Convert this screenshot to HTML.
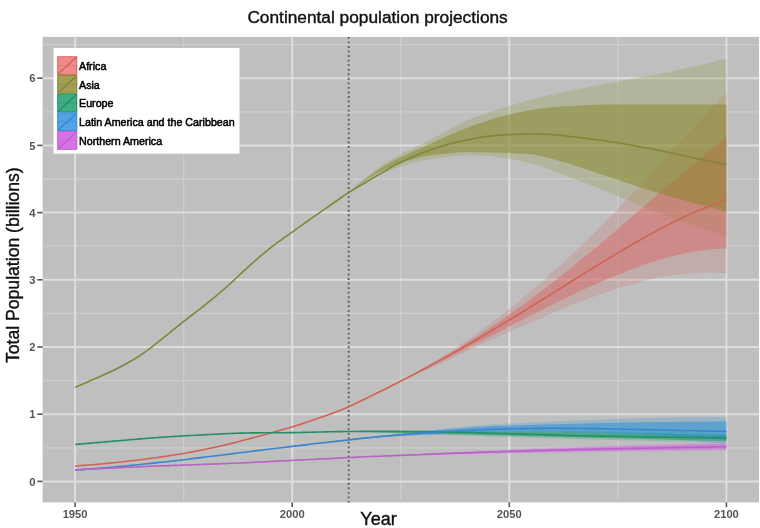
<!DOCTYPE html>
<html><head><meta charset="utf-8"><style>
html,body{margin:0;padding:0;background:#fff;}
svg{display:block;filter:blur(0.7px);}
text{font-family:"Liberation Sans", sans-serif;}
.tick{font-size:11.2px;font-weight:bold;fill:#555;}
.leg{font-size:10.7px;fill:#000;stroke:#000;stroke-width:0.5px;}
.title{font-size:17.3px;fill:#111;stroke:#111;stroke-width:0.4px;}
.axt{font-size:18px;fill:#111;stroke:#111;stroke-width:0.4px;}
.axty{font-size:17.6px;fill:#111;stroke:#111;stroke-width:0.4px;}
</style></head><body>
<svg width="760" height="528" viewBox="0 0 760 528">
<rect width="760" height="528" fill="#fff"/>
<rect x="42.6" y="36.9" width="716.4" height="465.5" fill="#BFBFBF"/>
<line x1="42.6" x2="759.0" y1="447.80" y2="447.80" stroke="#CDCDCD" stroke-width="1.3"/>
<line x1="42.6" x2="759.0" y1="380.60" y2="380.60" stroke="#CDCDCD" stroke-width="1.3"/>
<line x1="42.6" x2="759.0" y1="313.40" y2="313.40" stroke="#CDCDCD" stroke-width="1.3"/>
<line x1="42.6" x2="759.0" y1="246.20" y2="246.20" stroke="#CDCDCD" stroke-width="1.3"/>
<line x1="42.6" x2="759.0" y1="179.00" y2="179.00" stroke="#CDCDCD" stroke-width="1.3"/>
<line x1="42.6" x2="759.0" y1="111.80" y2="111.80" stroke="#CDCDCD" stroke-width="1.3"/>
<line x1="42.6" x2="759.0" y1="44.60" y2="44.60" stroke="#CDCDCD" stroke-width="1.3"/>
<line y1="36.9" y2="502.4" x1="183.65" x2="183.65" stroke="#CDCDCD" stroke-width="1.3"/>
<line y1="36.9" y2="502.4" x1="400.75" x2="400.75" stroke="#CDCDCD" stroke-width="1.3"/>
<line y1="36.9" y2="502.4" x1="617.85" x2="617.85" stroke="#CDCDCD" stroke-width="1.3"/>
<line x1="42.6" x2="759.0" y1="481.40" y2="481.40" stroke="#DEDEDE" stroke-width="2.0"/>
<line x1="42.6" x2="759.0" y1="414.20" y2="414.20" stroke="#DEDEDE" stroke-width="2.0"/>
<line x1="42.6" x2="759.0" y1="347.00" y2="347.00" stroke="#DEDEDE" stroke-width="2.0"/>
<line x1="42.6" x2="759.0" y1="279.80" y2="279.80" stroke="#DEDEDE" stroke-width="2.0"/>
<line x1="42.6" x2="759.0" y1="212.60" y2="212.60" stroke="#DEDEDE" stroke-width="2.0"/>
<line x1="42.6" x2="759.0" y1="145.40" y2="145.40" stroke="#DEDEDE" stroke-width="2.0"/>
<line x1="42.6" x2="759.0" y1="78.20" y2="78.20" stroke="#DEDEDE" stroke-width="2.0"/>
<line y1="36.9" y2="502.4" x1="75.10" x2="75.10" stroke="#DEDEDE" stroke-width="2.0"/>
<line y1="36.9" y2="502.4" x1="292.20" x2="292.20" stroke="#DEDEDE" stroke-width="2.0"/>
<line y1="36.9" y2="502.4" x1="509.30" x2="509.30" stroke="#DEDEDE" stroke-width="2.0"/>
<line y1="36.9" y2="502.4" x1="726.40" x2="726.40" stroke="#DEDEDE" stroke-width="2.0"/>
<defs><clipPath id="cA95"><polygon points="348.65,192.44 352.99,188.47 357.33,184.61 361.67,180.87 366.01,177.25 370.36,173.78 374.70,170.46 379.04,167.31 383.38,164.33 387.72,161.53 392.07,158.92 396.41,156.49 400.75,154.19 405.09,152.00 409.43,149.89 413.78,147.82 418.12,145.76 422.46,143.69 426.80,141.56 431.14,139.35 435.49,137.05 439.83,134.69 444.17,132.31 448.51,129.93 452.85,127.58 457.20,125.30 461.54,123.12 465.88,121.07 470.22,119.19 474.56,117.44 478.91,115.78 483.25,114.19 487.59,112.66 491.93,111.19 496.27,109.77 500.62,108.40 504.96,107.06 509.30,105.75 513.64,104.47 517.98,103.22 522.33,102.01 526.67,100.83 531.01,99.68 535.35,98.56 539.69,97.48 544.04,96.42 548.38,95.40 552.72,94.41 557.06,93.45 561.40,92.51 565.75,91.60 570.09,90.70 574.43,89.83 578.77,88.97 583.11,88.13 587.46,87.30 591.80,86.47 596.14,85.65 600.48,84.84 604.82,84.02 609.17,83.21 613.51,82.39 617.85,81.56 622.19,80.74 626.53,79.94 630.88,79.15 635.22,78.37 639.56,77.59 643.90,76.81 648.24,76.01 652.59,75.20 656.93,74.36 661.27,73.50 665.61,72.61 669.95,71.71 674.30,70.79 678.64,69.86 682.98,68.92 687.32,67.96 691.66,66.99 696.01,66.01 700.35,65.01 704.69,63.99 709.03,62.97 713.37,61.93 717.72,60.87 722.06,59.80 726.40,58.71 726.40,236.12 722.06,234.80 717.72,233.46 713.37,232.09 709.03,230.70 704.69,229.28 700.35,227.84 696.01,226.38 691.66,224.89 687.32,223.38 682.98,221.86 678.64,220.31 674.30,218.75 669.95,217.16 665.61,215.56 661.27,213.94 656.93,212.29 652.59,210.57 648.24,208.81 643.90,207.02 639.56,205.19 635.22,203.35 630.88,201.50 626.53,199.65 622.19,197.81 617.85,195.98 613.51,194.19 609.17,192.44 604.82,190.72 600.48,189.00 596.14,187.30 591.80,185.61 587.46,183.94 583.11,182.28 578.77,180.63 574.43,179.00 570.09,177.34 565.75,175.64 561.40,173.91 557.06,172.18 552.72,170.48 548.38,168.82 544.04,167.24 539.69,165.76 535.35,164.41 531.01,163.20 526.67,162.14 522.33,161.16 517.98,160.27 513.64,159.49 509.30,158.84 504.96,158.26 500.62,157.68 496.27,157.11 491.93,156.59 487.59,156.12 483.25,155.72 478.91,155.41 474.56,155.21 470.22,155.14 465.88,155.22 461.54,155.44 457.20,155.78 452.85,156.22 448.51,156.74 444.17,157.33 439.83,157.97 435.49,158.64 431.14,159.31 426.80,160.01 422.46,160.83 418.12,161.76 413.78,162.80 409.43,163.94 405.09,165.17 400.75,166.49 396.41,167.90 392.07,169.38 387.72,170.94 383.38,172.63 379.04,174.54 374.70,176.64 370.36,178.92 366.01,181.37 361.67,183.96 357.33,186.68 352.99,189.51 348.65,192.44"/></clipPath><clipPath id="cA80"><polygon points="348.65,192.44 352.99,188.84 357.33,185.33 361.67,181.93 366.01,178.65 370.36,175.48 374.70,172.44 379.04,169.55 383.38,166.80 387.72,164.22 392.07,161.78 396.41,159.49 400.75,157.30 405.09,155.21 409.43,153.19 413.78,151.22 418.12,149.29 422.46,147.36 426.80,145.43 431.14,143.46 435.49,141.47 439.83,139.48 444.17,137.49 448.51,135.53 452.85,133.60 457.20,131.73 461.54,129.92 465.88,128.20 470.22,126.58 474.56,125.03 478.91,123.50 483.25,122.00 487.59,120.56 491.93,119.18 496.27,117.87 500.62,116.64 504.96,115.51 509.30,114.49 513.64,113.53 517.98,112.58 522.33,111.66 526.67,110.78 531.01,109.97 535.35,109.22 539.69,108.57 544.04,108.01 548.38,107.57 552.72,107.24 557.06,106.93 561.40,106.62 565.75,106.33 570.09,106.06 574.43,105.80 578.77,105.55 583.11,105.33 587.46,105.13 591.80,104.95 596.14,104.79 600.48,104.66 604.82,104.55 609.17,104.47 613.51,104.42 617.85,104.41 622.19,104.41 626.53,104.41 630.88,104.41 635.22,104.41 639.56,104.41 643.90,104.41 648.24,104.41 652.59,104.41 656.93,104.41 661.27,104.41 665.61,104.41 669.95,104.41 674.30,104.41 678.64,104.41 682.98,104.41 687.32,104.41 691.66,104.41 696.01,104.41 700.35,104.41 704.69,104.41 709.03,104.41 713.37,104.41 717.72,104.41 722.06,104.41 726.40,104.41 726.40,211.26 722.06,210.21 717.72,209.15 713.37,208.07 709.03,206.96 704.69,205.85 700.35,204.71 696.01,203.56 691.66,202.39 687.32,201.20 682.98,200.00 678.64,198.78 674.30,197.55 669.95,196.31 665.61,195.05 661.27,193.78 656.93,192.49 652.59,191.16 648.24,189.80 643.90,188.41 639.56,187.00 635.22,185.58 630.88,184.14 626.53,182.70 622.19,181.26 617.85,179.83 613.51,178.40 609.17,176.98 604.82,175.56 600.48,174.10 596.14,172.63 591.80,171.14 587.46,169.67 583.11,168.22 578.77,166.80 574.43,165.43 570.09,164.11 565.75,162.87 561.40,161.63 557.06,160.33 552.72,159.04 548.38,157.79 544.04,156.63 539.69,155.63 535.35,154.82 531.01,154.25 526.67,153.92 522.33,153.66 517.98,153.46 513.64,153.28 509.30,153.13 504.96,152.97 500.62,152.82 496.27,152.66 491.93,152.52 487.59,152.39 483.25,152.28 478.91,152.19 474.56,152.14 470.22,152.12 465.88,152.17 461.54,152.33 457.20,152.57 452.85,152.90 448.51,153.29 444.17,153.74 439.83,154.23 435.49,154.76 431.14,155.31 426.80,155.93 422.46,156.74 418.12,157.73 413.78,158.89 409.43,160.19 405.09,161.62 400.75,163.16 396.41,164.79 392.07,166.49 387.72,168.25 383.38,170.15 379.04,172.29 374.70,174.65 370.36,177.22 366.01,179.97 361.67,182.89 357.33,185.95 352.99,189.14 348.65,192.44"/></clipPath></defs>
<polygon points="348.65,406.81 352.99,404.74 357.33,402.65 361.67,400.55 366.01,398.43 370.36,396.29 374.70,394.13 379.04,391.94 383.38,389.73 387.72,387.49 392.07,385.22 396.41,382.92 400.75,380.59 405.09,378.22 409.43,375.82 413.78,373.38 418.12,370.90 422.46,368.39 426.80,365.83 431.14,363.24 435.49,360.60 439.83,357.93 444.17,355.21 448.51,352.44 452.85,349.64 457.20,346.78 461.54,343.88 465.88,340.94 470.22,337.95 474.56,334.91 478.91,331.83 483.25,328.69 487.59,325.52 491.93,322.29 496.27,319.01 500.62,315.69 504.96,312.32 509.30,308.90 513.64,305.43 517.98,301.92 522.33,298.36 526.67,294.75 531.01,291.09 535.35,287.39 539.69,283.64 544.04,279.84 548.38,276.00 552.72,272.11 557.06,268.18 561.40,264.21 565.75,260.19 570.09,256.13 574.43,252.03 578.77,247.89 583.11,243.71 587.46,239.49 591.80,235.23 596.14,230.93 600.48,226.60 604.82,222.23 609.17,217.83 613.51,213.40 617.85,208.94 622.19,204.44 626.53,199.92 630.88,195.37 635.22,190.80 639.56,186.20 643.90,181.58 648.24,176.93 652.59,172.27 656.93,167.59 661.27,162.90 665.61,158.19 669.95,153.46 674.30,148.73 678.64,143.99 682.98,139.24 687.32,134.48 691.66,129.73 696.01,124.97 700.35,120.22 704.69,115.46 709.03,110.72 713.37,105.98 717.72,101.26 722.06,96.54 726.40,91.84 726.40,273.28 722.06,272.92 717.72,272.66 713.37,272.50 709.03,272.44 704.69,272.47 700.35,272.58 696.01,272.79 691.66,273.08 687.32,273.45 682.98,273.90 678.64,274.43 674.30,275.03 669.95,275.70 665.61,276.44 661.27,277.24 656.93,278.12 652.59,279.05 648.24,280.04 643.90,281.09 639.56,282.20 635.22,283.35 630.88,284.56 626.53,285.82 622.19,287.12 617.85,288.47 613.51,289.86 609.17,291.30 604.82,292.77 600.48,294.28 596.14,295.82 591.80,297.40 587.46,299.01 583.11,300.66 578.77,302.33 574.43,304.02 570.09,305.75 565.75,307.50 561.40,309.27 557.06,311.06 552.72,312.88 548.38,314.71 544.04,316.56 539.69,318.43 535.35,320.31 531.01,322.21 526.67,324.12 522.33,326.05 517.98,327.98 513.64,329.93 509.30,331.88 504.96,333.85 500.62,335.82 496.27,337.80 491.93,339.79 487.59,341.78 483.25,343.78 478.91,345.78 474.56,347.79 470.22,349.80 465.88,351.81 461.54,353.83 457.20,355.85 452.85,357.87 448.51,359.89 444.17,361.92 439.83,363.94 435.49,365.97 431.14,368.00 426.80,370.03 422.46,372.06 418.12,374.09 413.78,376.12 409.43,378.15 405.09,380.18 400.75,382.22 396.41,384.26 392.07,386.29 387.72,388.33 383.38,390.37 379.04,392.42 374.70,394.46 370.36,396.51 366.01,398.57 361.67,400.62 357.33,402.68 352.99,404.74 348.65,406.81" fill="#c9807c" fill-opacity="0.3"/>
<polygon points="348.65,192.44 352.99,188.47 357.33,184.61 361.67,180.87 366.01,177.25 370.36,173.78 374.70,170.46 379.04,167.31 383.38,164.33 387.72,161.53 392.07,158.92 396.41,156.49 400.75,154.19 405.09,152.00 409.43,149.89 413.78,147.82 418.12,145.76 422.46,143.69 426.80,141.56 431.14,139.35 435.49,137.05 439.83,134.69 444.17,132.31 448.51,129.93 452.85,127.58 457.20,125.30 461.54,123.12 465.88,121.07 470.22,119.19 474.56,117.44 478.91,115.78 483.25,114.19 487.59,112.66 491.93,111.19 496.27,109.77 500.62,108.40 504.96,107.06 509.30,105.75 513.64,104.47 517.98,103.22 522.33,102.01 526.67,100.83 531.01,99.68 535.35,98.56 539.69,97.48 544.04,96.42 548.38,95.40 552.72,94.41 557.06,93.45 561.40,92.51 565.75,91.60 570.09,90.70 574.43,89.83 578.77,88.97 583.11,88.13 587.46,87.30 591.80,86.47 596.14,85.65 600.48,84.84 604.82,84.02 609.17,83.21 613.51,82.39 617.85,81.56 622.19,80.74 626.53,79.94 630.88,79.15 635.22,78.37 639.56,77.59 643.90,76.81 648.24,76.01 652.59,75.20 656.93,74.36 661.27,73.50 665.61,72.61 669.95,71.71 674.30,70.79 678.64,69.86 682.98,68.92 687.32,67.96 691.66,66.99 696.01,66.01 700.35,65.01 704.69,63.99 709.03,62.97 713.37,61.93 717.72,60.87 722.06,59.80 726.40,58.71 726.40,236.12 722.06,234.80 717.72,233.46 713.37,232.09 709.03,230.70 704.69,229.28 700.35,227.84 696.01,226.38 691.66,224.89 687.32,223.38 682.98,221.86 678.64,220.31 674.30,218.75 669.95,217.16 665.61,215.56 661.27,213.94 656.93,212.29 652.59,210.57 648.24,208.81 643.90,207.02 639.56,205.19 635.22,203.35 630.88,201.50 626.53,199.65 622.19,197.81 617.85,195.98 613.51,194.19 609.17,192.44 604.82,190.72 600.48,189.00 596.14,187.30 591.80,185.61 587.46,183.94 583.11,182.28 578.77,180.63 574.43,179.00 570.09,177.34 565.75,175.64 561.40,173.91 557.06,172.18 552.72,170.48 548.38,168.82 544.04,167.24 539.69,165.76 535.35,164.41 531.01,163.20 526.67,162.14 522.33,161.16 517.98,160.27 513.64,159.49 509.30,158.84 504.96,158.26 500.62,157.68 496.27,157.11 491.93,156.59 487.59,156.12 483.25,155.72 478.91,155.41 474.56,155.21 470.22,155.14 465.88,155.22 461.54,155.44 457.20,155.78 452.85,156.22 448.51,156.74 444.17,157.33 439.83,157.97 435.49,158.64 431.14,159.31 426.80,160.01 422.46,160.83 418.12,161.76 413.78,162.80 409.43,163.94 405.09,165.17 400.75,166.49 396.41,167.90 392.07,169.38 387.72,170.94 383.38,172.63 379.04,174.54 374.70,176.64 370.36,178.92 366.01,181.37 361.67,183.96 357.33,186.68 352.99,189.51 348.65,192.44" fill="#959f4e" fill-opacity="0.31"/>
<polygon points="348.65,431.54 352.99,431.47 357.33,431.40 361.67,431.34 366.01,431.28 370.36,431.22 374.70,431.16 379.04,431.10 383.38,431.05 387.72,431.00 392.07,430.95 396.41,430.90 400.75,430.86 405.09,430.81 409.43,430.77 413.78,430.73 418.12,430.70 422.46,430.66 426.80,430.63 431.14,430.60 435.49,430.57 439.83,430.54 444.17,430.51 448.51,430.49 452.85,430.47 457.20,430.44 461.54,430.43 465.88,430.41 470.22,430.39 474.56,430.38 478.91,430.37 483.25,430.36 487.59,430.35 491.93,430.34 496.27,430.34 500.62,430.33 504.96,430.33 509.30,430.33 513.64,430.33 517.98,430.33 522.33,430.34 526.67,430.35 531.01,430.36 535.35,430.37 539.69,430.38 544.04,430.40 548.38,430.42 552.72,430.44 557.06,430.47 561.40,430.49 565.75,430.52 570.09,430.55 574.43,430.58 578.77,430.62 583.11,430.65 587.46,430.69 591.80,430.73 596.14,430.78 600.48,430.82 604.82,430.87 609.17,430.92 613.51,430.97 617.85,431.03 622.19,431.08 626.53,431.14 630.88,431.20 635.22,431.26 639.56,431.33 643.90,431.39 648.24,431.46 652.59,431.53 656.93,431.60 661.27,431.68 665.61,431.75 669.95,431.83 674.30,431.91 678.64,431.99 682.98,432.07 687.32,432.16 691.66,432.25 696.01,432.34 700.35,432.43 704.69,432.52 709.03,432.62 713.37,432.71 717.72,432.81 722.06,432.91 726.40,433.02 726.40,442.76 722.06,442.67 717.72,442.57 713.37,442.47 709.03,442.38 704.69,442.28 700.35,442.18 696.01,442.08 691.66,441.98 687.32,441.87 682.98,441.77 678.64,441.67 674.30,441.56 669.95,441.46 665.61,441.35 661.27,441.24 656.93,441.14 652.59,441.03 648.24,440.92 643.90,440.81 639.56,440.70 635.22,440.58 630.88,440.47 626.53,440.36 622.19,440.24 617.85,440.13 613.51,440.01 609.17,439.90 604.82,439.78 600.48,439.66 596.14,439.54 591.80,439.42 587.46,439.30 583.11,439.18 578.77,439.06 574.43,438.94 570.09,438.82 565.75,438.70 561.40,438.57 557.06,438.45 552.72,438.32 548.38,438.20 544.04,438.07 539.69,437.95 535.35,437.82 531.01,437.69 526.67,437.56 522.33,437.44 517.98,437.31 513.64,437.18 509.30,437.05 504.96,436.92 500.62,436.79 496.27,436.65 491.93,436.52 487.59,436.38 483.25,436.25 478.91,436.11 474.56,435.97 470.22,435.83 465.88,435.69 461.54,435.55 457.20,435.40 452.85,435.26 448.51,435.11 444.17,434.97 439.83,434.82 435.49,434.67 431.14,434.52 426.80,434.37 422.46,434.22 418.12,434.07 413.78,433.92 409.43,433.76 405.09,433.61 400.75,433.45 396.41,433.30 392.07,433.14 387.72,432.99 383.38,432.83 379.04,432.67 374.70,432.51 370.36,432.35 366.01,432.19 361.67,432.03 357.33,431.86 352.99,431.70 348.65,431.54" fill="#3faa80" fill-opacity="0.3"/>
<polygon points="348.65,439.94 352.99,439.37 357.33,438.80 361.67,438.23 366.01,437.67 370.36,437.11 374.70,436.55 379.04,436.00 383.38,435.45 387.72,434.91 392.07,434.38 396.41,433.85 400.75,433.32 405.09,432.81 409.43,432.30 413.78,431.79 418.12,431.30 422.46,430.82 426.80,430.34 431.14,429.88 435.49,429.42 439.83,428.97 444.17,428.54 448.51,428.11 452.85,427.70 457.20,427.30 461.54,426.92 465.88,426.54 470.22,426.18 474.56,425.83 478.91,425.50 483.25,425.18 487.59,424.88 491.93,424.59 496.27,424.32 500.62,424.07 504.96,423.83 509.30,423.61 513.64,423.40 517.98,423.19 522.33,422.98 526.67,422.77 531.01,422.56 535.35,422.36 539.69,422.15 544.04,421.95 548.38,421.75 552.72,421.55 557.06,421.36 561.40,421.17 565.75,420.97 570.09,420.79 574.43,420.60 578.77,420.42 583.11,420.24 587.46,420.06 591.80,419.89 596.14,419.72 600.48,419.55 604.82,419.39 609.17,419.23 613.51,419.08 617.85,418.93 622.19,418.78 626.53,418.64 630.88,418.50 635.22,418.37 639.56,418.24 643.90,418.11 648.24,418.00 652.59,417.88 656.93,417.78 661.27,417.67 665.61,417.58 669.95,417.49 674.30,417.40 678.64,417.32 682.98,417.25 687.32,417.18 691.66,417.12 696.01,417.07 700.35,417.02 704.69,416.98 709.03,416.95 713.37,416.92 717.72,416.90 722.06,416.89 726.40,416.89 726.40,443.77 722.06,443.36 717.72,442.96 713.37,442.56 709.03,442.18 704.69,441.81 700.35,441.44 696.01,441.08 691.66,440.74 687.32,440.40 682.98,440.07 678.64,439.74 674.30,439.43 669.95,439.13 665.61,438.83 661.27,438.54 656.93,438.27 652.59,437.99 648.24,437.73 643.90,437.48 639.56,437.24 635.22,437.00 630.88,436.77 626.53,436.55 622.19,436.34 617.85,436.14 613.51,435.94 609.17,435.76 604.82,435.58 600.48,435.41 596.14,435.25 591.80,435.09 587.46,434.95 583.11,434.81 578.77,434.68 574.43,434.56 570.09,434.45 565.75,434.34 561.40,434.24 557.06,434.15 552.72,434.07 548.38,434.00 544.04,433.93 539.69,433.88 535.35,433.83 531.01,433.78 526.67,433.75 522.33,433.72 517.98,433.70 513.64,433.69 509.30,433.69 504.96,433.69 500.62,433.71 496.27,433.73 491.93,433.77 487.59,433.81 483.25,433.86 478.91,433.92 474.56,434.00 470.22,434.08 465.88,434.17 461.54,434.27 457.20,434.38 452.85,434.49 448.51,434.62 444.17,434.76 439.83,434.90 435.49,435.06 431.14,435.22 426.80,435.39 422.46,435.57 418.12,435.76 413.78,435.96 409.43,436.16 405.09,436.38 400.75,436.60 396.41,436.84 392.07,437.08 387.72,437.33 383.38,437.58 379.04,437.85 374.70,438.12 370.36,438.41 366.01,438.70 361.67,438.99 357.33,439.30 352.99,439.62 348.65,439.94" fill="#4a9fd8" fill-opacity="0.3"/>
<polygon points="348.65,457.54 352.99,457.30 357.33,457.05 361.67,456.81 366.01,456.56 370.36,456.32 374.70,456.08 379.04,455.84 383.38,455.60 387.72,455.36 392.07,455.13 396.41,454.89 400.75,454.66 405.09,454.43 409.43,454.20 413.78,453.97 418.12,453.75 422.46,453.52 426.80,453.30 431.14,453.08 435.49,452.86 439.83,452.64 444.17,452.43 448.51,452.22 452.85,452.01 457.20,451.80 461.54,451.59 465.88,451.39 470.22,451.19 474.56,450.99 478.91,450.79 483.25,450.59 487.59,450.40 491.93,450.21 496.27,450.03 500.62,449.84 504.96,449.66 509.30,449.48 513.64,449.30 517.98,449.13 522.33,448.95 526.67,448.78 531.01,448.60 535.35,448.43 539.69,448.26 544.04,448.08 548.38,447.91 552.72,447.74 557.06,447.58 561.40,447.41 565.75,447.24 570.09,447.08 574.43,446.91 578.77,446.75 583.11,446.59 587.46,446.43 591.80,446.27 596.14,446.11 600.48,445.96 604.82,445.80 609.17,445.65 613.51,445.50 617.85,445.34 622.19,445.19 626.53,445.05 630.88,444.90 635.22,444.75 639.56,444.61 643.90,444.47 648.24,444.33 652.59,444.19 656.93,444.05 661.27,443.91 665.61,443.78 669.95,443.65 674.30,443.52 678.64,443.39 682.98,443.26 687.32,443.13 691.66,443.01 696.01,442.89 700.35,442.77 704.69,442.65 709.03,442.53 713.37,442.42 717.72,442.31 722.06,442.20 726.40,442.09 726.40,450.82 722.06,450.85 717.72,450.87 713.37,450.90 709.03,450.93 704.69,450.96 700.35,450.99 696.01,451.02 691.66,451.05 687.32,451.09 682.98,451.13 678.64,451.17 674.30,451.21 669.95,451.25 665.61,451.29 661.27,451.34 656.93,451.38 652.59,451.43 648.24,451.48 643.90,451.53 639.56,451.58 635.22,451.63 630.88,451.68 626.53,451.74 622.19,451.79 617.85,451.85 613.51,451.91 609.17,451.96 604.82,452.02 600.48,452.08 596.14,452.14 591.80,452.21 587.46,452.27 583.11,452.33 578.77,452.40 574.43,452.46 570.09,452.53 565.75,452.60 561.40,452.66 557.06,452.73 552.72,452.80 548.38,452.87 544.04,452.94 539.69,453.01 535.35,453.08 531.01,453.15 526.67,453.22 522.33,453.29 517.98,453.37 513.64,453.44 509.30,453.51 504.96,453.59 500.62,453.66 496.27,453.74 491.93,453.83 487.59,453.91 483.25,454.00 478.91,454.09 474.56,454.18 470.22,454.27 465.88,454.37 461.54,454.46 457.20,454.56 452.85,454.66 448.51,454.77 444.17,454.87 439.83,454.98 435.49,455.09 431.14,455.20 426.80,455.31 422.46,455.42 418.12,455.54 413.78,455.66 409.43,455.77 405.09,455.89 400.75,456.01 396.41,456.14 392.07,456.26 387.72,456.38 383.38,456.51 379.04,456.63 374.70,456.76 370.36,456.89 366.01,457.02 361.67,457.15 357.33,457.28 352.99,457.41 348.65,457.54" fill="#d080e0" fill-opacity="0.3"/>
<polygon points="348.65,406.81 352.99,404.74 357.33,402.65 361.67,400.56 366.01,398.45 370.36,396.33 374.70,394.19 379.04,392.03 383.38,389.85 387.72,387.65 392.07,385.44 396.41,383.19 400.75,380.93 405.09,378.64 409.43,376.32 413.78,373.98 418.12,371.61 422.46,369.21 426.80,366.78 431.14,364.33 435.49,361.84 439.83,359.33 444.17,356.78 448.51,354.20 452.85,351.59 457.20,348.94 461.54,346.27 465.88,343.56 470.22,340.81 474.56,338.03 478.91,335.22 483.25,332.38 487.59,329.50 491.93,326.59 496.27,323.64 500.62,320.66 504.96,317.65 509.30,314.60 513.64,311.52 517.98,308.40 522.33,305.26 526.67,302.08 531.01,298.87 535.35,295.63 539.69,292.35 544.04,289.05 548.38,285.72 552.72,282.35 557.06,278.96 561.40,275.54 565.75,272.10 570.09,268.63 574.43,265.13 578.77,261.61 583.11,258.06 587.46,254.49 591.80,250.90 596.14,247.29 600.48,243.67 604.82,240.02 609.17,236.36 613.51,232.68 617.85,228.98 622.19,225.28 626.53,221.56 630.88,217.83 635.22,214.10 639.56,210.36 643.90,206.61 648.24,202.86 652.59,199.10 656.93,195.35 661.27,191.60 665.61,187.85 669.95,184.11 674.30,180.37 678.64,176.65 682.98,172.93 687.32,169.23 691.66,165.54 696.01,161.87 700.35,158.22 704.69,154.60 709.03,150.99 713.37,147.42 717.72,143.87 722.06,140.35 726.40,136.87 726.40,248.42 722.06,248.54 717.72,248.76 713.37,249.07 709.03,249.48 704.69,249.97 700.35,250.55 696.01,251.22 691.66,251.97 687.32,252.79 682.98,253.70 678.64,254.67 674.30,255.72 669.95,256.83 665.61,258.01 661.27,259.25 656.93,260.55 652.59,261.92 648.24,263.33 643.90,264.80 639.56,266.32 635.22,267.89 630.88,269.51 626.53,271.18 622.19,272.88 617.85,274.63 613.51,276.41 609.17,278.23 604.82,280.09 600.48,281.98 596.14,283.90 591.80,285.85 587.46,287.83 583.11,289.83 578.77,291.86 574.43,293.91 570.09,295.98 565.75,298.08 561.40,300.19 557.06,302.31 552.72,304.46 548.38,306.61 544.04,308.78 539.69,310.96 535.35,313.16 531.01,315.36 526.67,317.57 522.33,319.78 517.98,322.00 513.64,324.23 509.30,326.46 504.96,328.70 500.62,330.93 496.27,333.17 491.93,335.41 487.59,337.65 483.25,339.88 478.91,342.12 474.56,344.35 470.22,346.58 465.88,348.81 461.54,351.04 457.20,353.26 452.85,355.47 448.51,357.68 444.17,359.89 439.83,362.08 435.49,364.28 431.14,366.46 426.80,368.65 422.46,370.82 418.12,372.99 413.78,375.15 409.43,377.30 405.09,379.45 400.75,381.59 396.41,383.73 392.07,385.86 387.72,387.98 383.38,390.09 379.04,392.20 374.70,394.31 370.36,396.40 366.01,398.50 361.67,400.58 357.33,402.66 352.99,404.74 348.65,406.81" fill="#d66865" fill-opacity="0.5"/>
<polygon points="348.65,192.44 352.99,188.84 357.33,185.33 361.67,181.93 366.01,178.65 370.36,175.48 374.70,172.44 379.04,169.55 383.38,166.80 387.72,164.22 392.07,161.78 396.41,159.49 400.75,157.30 405.09,155.21 409.43,153.19 413.78,151.22 418.12,149.29 422.46,147.36 426.80,145.43 431.14,143.46 435.49,141.47 439.83,139.48 444.17,137.49 448.51,135.53 452.85,133.60 457.20,131.73 461.54,129.92 465.88,128.20 470.22,126.58 474.56,125.03 478.91,123.50 483.25,122.00 487.59,120.56 491.93,119.18 496.27,117.87 500.62,116.64 504.96,115.51 509.30,114.49 513.64,113.53 517.98,112.58 522.33,111.66 526.67,110.78 531.01,109.97 535.35,109.22 539.69,108.57 544.04,108.01 548.38,107.57 552.72,107.24 557.06,106.93 561.40,106.62 565.75,106.33 570.09,106.06 574.43,105.80 578.77,105.55 583.11,105.33 587.46,105.13 591.80,104.95 596.14,104.79 600.48,104.66 604.82,104.55 609.17,104.47 613.51,104.42 617.85,104.41 622.19,104.41 626.53,104.41 630.88,104.41 635.22,104.41 639.56,104.41 643.90,104.41 648.24,104.41 652.59,104.41 656.93,104.41 661.27,104.41 665.61,104.41 669.95,104.41 674.30,104.41 678.64,104.41 682.98,104.41 687.32,104.41 691.66,104.41 696.01,104.41 700.35,104.41 704.69,104.41 709.03,104.41 713.37,104.41 717.72,104.41 722.06,104.41 726.40,104.41 726.40,211.26 722.06,210.21 717.72,209.15 713.37,208.07 709.03,206.96 704.69,205.85 700.35,204.71 696.01,203.56 691.66,202.39 687.32,201.20 682.98,200.00 678.64,198.78 674.30,197.55 669.95,196.31 665.61,195.05 661.27,193.78 656.93,192.49 652.59,191.16 648.24,189.80 643.90,188.41 639.56,187.00 635.22,185.58 630.88,184.14 626.53,182.70 622.19,181.26 617.85,179.83 613.51,178.40 609.17,176.98 604.82,175.56 600.48,174.10 596.14,172.63 591.80,171.14 587.46,169.67 583.11,168.22 578.77,166.80 574.43,165.43 570.09,164.11 565.75,162.87 561.40,161.63 557.06,160.33 552.72,159.04 548.38,157.79 544.04,156.63 539.69,155.63 535.35,154.82 531.01,154.25 526.67,153.92 522.33,153.66 517.98,153.46 513.64,153.28 509.30,153.13 504.96,152.97 500.62,152.82 496.27,152.66 491.93,152.52 487.59,152.39 483.25,152.28 478.91,152.19 474.56,152.14 470.22,152.12 465.88,152.17 461.54,152.33 457.20,152.57 452.85,152.90 448.51,153.29 444.17,153.74 439.83,154.23 435.49,154.76 431.14,155.31 426.80,155.93 422.46,156.74 418.12,157.73 413.78,158.89 409.43,160.19 405.09,161.62 400.75,163.16 396.41,164.79 392.07,166.49 387.72,168.25 383.38,170.15 379.04,172.29 374.70,174.65 370.36,177.22 366.01,179.97 361.67,182.89 357.33,185.95 352.99,189.14 348.65,192.44" fill="#868524" fill-opacity="0.5"/>
<polygon points="348.65,431.54 352.99,431.54 357.33,431.54 361.67,431.54 366.01,431.54 370.36,431.54 374.70,431.54 379.04,431.54 383.38,431.54 387.72,431.55 392.07,431.55 396.41,431.55 400.75,431.55 405.09,431.56 409.43,431.56 413.78,431.56 418.12,431.57 422.46,431.57 426.80,431.57 431.14,431.58 435.49,431.58 439.83,431.58 444.17,431.59 448.51,431.59 452.85,431.60 457.20,431.60 461.54,431.61 465.88,431.61 470.22,431.62 474.56,431.62 478.91,431.63 483.25,431.63 487.59,431.64 491.93,431.65 496.27,431.65 500.62,431.66 504.96,431.67 509.30,431.67 513.64,431.68 517.98,431.69 522.33,431.71 526.67,431.72 531.01,431.75 535.35,431.77 539.69,431.80 544.04,431.83 548.38,431.86 552.72,431.90 557.06,431.94 561.40,431.98 565.75,432.02 570.09,432.07 574.43,432.12 578.77,432.17 583.11,432.23 587.46,432.28 591.80,432.34 596.14,432.40 600.48,432.47 604.82,432.53 609.17,432.60 613.51,432.67 617.85,432.74 622.19,432.82 626.53,432.90 630.88,432.97 635.22,433.05 639.56,433.13 643.90,433.22 648.24,433.30 652.59,433.39 656.93,433.48 661.27,433.56 665.61,433.66 669.95,433.75 674.30,433.84 678.64,433.93 682.98,434.03 687.32,434.13 691.66,434.22 696.01,434.32 700.35,434.42 704.69,434.52 709.03,434.62 713.37,434.72 717.72,434.83 722.06,434.93 726.40,435.03 726.40,441.08 722.06,440.98 717.72,440.87 713.37,440.77 709.03,440.66 704.69,440.56 700.35,440.45 696.01,440.34 691.66,440.24 687.32,440.13 682.98,440.03 678.64,439.92 674.30,439.82 669.95,439.71 665.61,439.60 661.27,439.50 656.93,439.39 652.59,439.28 648.24,439.18 643.90,439.07 639.56,438.96 635.22,438.86 630.88,438.75 626.53,438.64 622.19,438.53 617.85,438.43 613.51,438.32 609.17,438.21 604.82,438.10 600.48,438.00 596.14,437.89 591.80,437.78 587.46,437.67 583.11,437.56 578.77,437.45 574.43,437.35 570.09,437.24 565.75,437.13 561.40,437.02 557.06,436.91 552.72,436.80 548.38,436.69 544.04,436.58 539.69,436.47 535.35,436.36 531.01,436.25 526.67,436.14 522.33,436.03 517.98,435.92 513.64,435.81 509.30,435.70 504.96,435.59 500.62,435.48 496.27,435.37 491.93,435.26 487.59,435.15 483.25,435.04 478.91,434.93 474.56,434.82 470.22,434.71 465.88,434.60 461.54,434.48 457.20,434.37 452.85,434.26 448.51,434.15 444.17,434.04 439.83,433.92 435.49,433.81 431.14,433.70 426.80,433.59 422.46,433.47 418.12,433.36 413.78,433.25 409.43,433.13 405.09,433.02 400.75,432.91 396.41,432.79 392.07,432.68 387.72,432.57 383.38,432.45 379.04,432.34 374.70,432.22 370.36,432.11 366.01,432.00 361.67,431.88 357.33,431.77 352.99,431.65 348.65,431.54" fill="#1c9a68" fill-opacity="0.5"/>
<polygon points="348.65,439.94 352.99,439.42 357.33,438.91 361.67,438.39 366.01,437.88 370.36,437.37 374.70,436.87 379.04,436.36 383.38,435.87 387.72,435.37 392.07,434.88 396.41,434.40 400.75,433.93 405.09,433.46 409.43,433.00 413.78,432.54 418.12,432.10 422.46,431.66 426.80,431.24 431.14,430.82 435.49,430.41 439.83,430.02 444.17,429.64 448.51,429.26 452.85,428.91 457.20,428.56 461.54,428.23 465.88,427.91 470.22,427.61 474.56,427.32 478.91,427.05 483.25,426.79 487.59,426.55 491.93,426.33 496.27,426.12 500.62,425.94 504.96,425.77 509.30,425.62 513.64,425.49 517.98,425.35 522.33,425.22 526.67,425.08 531.01,424.95 535.35,424.82 539.69,424.69 544.04,424.57 548.38,424.44 552.72,424.32 557.06,424.20 561.40,424.08 565.75,423.97 570.09,423.85 574.43,423.74 578.77,423.63 583.11,423.52 587.46,423.42 591.80,423.31 596.14,423.21 600.48,423.11 604.82,423.02 609.17,422.92 613.51,422.83 617.85,422.75 622.19,422.66 626.53,422.58 630.88,422.50 635.22,422.42 639.56,422.35 643.90,422.28 648.24,422.21 652.59,422.15 656.93,422.09 661.27,422.03 665.61,421.97 669.95,421.92 674.30,421.88 678.64,421.83 682.98,421.79 687.32,421.75 691.66,421.72 696.01,421.69 700.35,421.66 704.69,421.64 709.03,421.62 713.37,421.61 717.72,421.60 722.06,421.59 726.40,421.59 726.40,439.74 722.06,439.36 717.72,438.99 713.37,438.64 709.03,438.29 704.69,437.96 700.35,437.64 696.01,437.33 691.66,437.02 687.32,436.73 682.98,436.45 678.64,436.18 674.30,435.92 669.95,435.66 665.61,435.42 661.27,435.18 656.93,434.96 652.59,434.74 648.24,434.53 643.90,434.34 639.56,434.14 635.22,433.96 630.88,433.79 626.53,433.62 622.19,433.46 617.85,433.31 613.51,433.17 609.17,433.04 604.82,432.91 600.48,432.79 596.14,432.68 591.80,432.57 587.46,432.47 583.11,432.38 578.77,432.29 574.43,432.21 570.09,432.14 565.75,432.07 561.40,432.01 557.06,431.95 552.72,431.90 548.38,431.85 544.04,431.81 539.69,431.78 535.35,431.75 531.01,431.73 526.67,431.71 522.33,431.69 517.98,431.68 513.64,431.67 509.30,431.67 504.96,431.68 500.62,431.70 496.27,431.74 491.93,431.79 487.59,431.86 483.25,431.94 478.91,432.03 474.56,432.14 470.22,432.26 465.88,432.39 461.54,432.54 457.20,432.70 452.85,432.87 448.51,433.05 444.17,433.25 439.83,433.45 435.49,433.67 431.14,433.90 426.80,434.14 422.46,434.38 418.12,434.64 413.78,434.91 409.43,435.19 405.09,435.48 400.75,435.77 396.41,436.08 392.07,436.39 387.72,436.71 383.38,437.04 379.04,437.38 374.70,437.73 370.36,438.08 366.01,438.44 361.67,438.80 357.33,439.18 352.99,439.55 348.65,439.94" fill="#2090d8" fill-opacity="0.5"/>
<polygon points="348.65,457.54 352.99,457.31 357.33,457.09 361.67,456.86 366.01,456.63 370.36,456.41 374.70,456.18 379.04,455.96 383.38,455.74 387.72,455.52 392.07,455.30 396.41,455.08 400.75,454.87 405.09,454.65 409.43,454.44 413.78,454.23 418.12,454.02 422.46,453.82 426.80,453.61 431.14,453.41 435.49,453.21 439.83,453.01 444.17,452.81 448.51,452.62 452.85,452.43 457.20,452.24 461.54,452.05 465.88,451.86 470.22,451.68 474.56,451.50 478.91,451.32 483.25,451.15 487.59,450.97 491.93,450.80 496.27,450.64 500.62,450.47 504.96,450.31 509.30,450.15 513.64,449.99 517.98,449.84 522.33,449.68 526.67,449.53 531.01,449.37 535.35,449.22 539.69,449.07 544.04,448.92 548.38,448.77 552.72,448.62 557.06,448.47 561.40,448.32 565.75,448.18 570.09,448.03 574.43,447.89 578.77,447.74 583.11,447.60 587.46,447.46 591.80,447.32 596.14,447.18 600.48,447.05 604.82,446.91 609.17,446.78 613.51,446.65 617.85,446.51 622.19,446.38 626.53,446.26 630.88,446.13 635.22,446.00 639.56,445.88 643.90,445.76 648.24,445.64 652.59,445.52 656.93,445.40 661.27,445.28 665.61,445.17 669.95,445.06 674.30,444.95 678.64,444.84 682.98,444.73 687.32,444.63 691.66,444.52 696.01,444.42 700.35,444.32 704.69,444.23 709.03,444.13 713.37,444.04 717.72,443.94 722.06,443.86 726.40,443.77 726.40,449.48 722.06,449.51 717.72,449.55 713.37,449.59 709.03,449.63 704.69,449.67 700.35,449.71 696.01,449.75 691.66,449.80 687.32,449.85 682.98,449.90 678.64,449.95 674.30,450.00 669.95,450.05 665.61,450.11 661.27,450.17 656.93,450.22 652.59,450.28 648.24,450.34 643.90,450.41 639.56,450.47 635.22,450.53 630.88,450.60 626.53,450.67 622.19,450.74 617.85,450.81 613.51,450.88 609.17,450.95 604.82,451.02 600.48,451.10 596.14,451.17 591.80,451.25 587.46,451.32 583.11,451.40 578.77,451.48 574.43,451.56 570.09,451.64 565.75,451.72 561.40,451.81 557.06,451.89 552.72,451.97 548.38,452.06 544.04,452.14 539.69,452.23 535.35,452.31 531.01,452.40 526.67,452.49 522.33,452.57 517.98,452.66 513.64,452.75 509.30,452.84 504.96,452.93 500.62,453.02 496.27,453.12 491.93,453.22 487.59,453.32 483.25,453.42 478.91,453.53 474.56,453.64 470.22,453.75 465.88,453.86 461.54,453.97 457.20,454.09 452.85,454.21 448.51,454.33 444.17,454.45 439.83,454.58 435.49,454.71 431.14,454.83 426.80,454.96 422.46,455.10 418.12,455.23 413.78,455.36 409.43,455.50 405.09,455.64 400.75,455.78 396.41,455.92 392.07,456.06 387.72,456.21 383.38,456.35 379.04,456.50 374.70,456.64 370.36,456.79 366.01,456.94 361.67,457.09 357.33,457.24 352.99,457.39 348.65,457.54" fill="#cc60e0" fill-opacity="0.5"/>
<line x1="348.65" x2="348.65" y1="36.9" y2="502.4" stroke="#5a5a5a" stroke-width="1.8" stroke-dasharray="1.9 2.65"/>
<polyline points="75.10,466.01 77.27,465.86 79.44,465.71 81.61,465.55 83.78,465.39 85.95,465.22 88.13,465.05 90.30,464.87 92.47,464.70 94.64,464.52 96.81,464.33 98.98,464.14 101.15,463.95 103.32,463.75 105.49,463.55 107.66,463.34 109.84,463.13 112.01,462.91 114.18,462.70 116.35,462.47 118.52,462.25 120.69,462.02 122.86,461.79 125.03,461.55 127.20,461.31 129.38,461.06 131.55,460.81 133.72,460.55 135.89,460.29 138.06,460.03 140.23,459.76 142.40,459.49 144.57,459.21 146.74,458.92 148.91,458.63 151.08,458.34 153.26,458.04 155.43,457.74 157.60,457.43 159.77,457.12 161.94,456.80 164.11,456.49 166.28,456.17 168.45,455.85 170.62,455.53 172.79,455.20 174.97,454.86 177.14,454.52 179.31,454.17 181.48,453.81 183.65,453.44 185.82,453.07 187.99,452.68 190.16,452.28 192.33,451.87 194.50,451.46 196.68,451.03 198.85,450.60 201.02,450.17 203.19,449.72 205.36,449.28 207.53,448.83 209.70,448.37 211.87,447.90 214.04,447.43 216.21,446.94 218.39,446.46 220.56,445.96 222.73,445.46 224.90,444.95 227.07,444.44 229.24,443.92 231.41,443.39 233.58,442.85 235.75,442.31 237.92,441.75 240.10,441.20 242.27,440.63 244.44,440.07 246.61,439.50 248.78,438.93 250.95,438.36 253.12,437.78 255.29,437.19 257.46,436.60 259.63,436.01 261.81,435.42 263.98,434.82 266.15,434.22 268.32,433.62 270.49,433.02 272.66,432.42 274.83,431.82 277.00,431.22 279.17,430.63 281.34,430.03 283.52,429.42 285.69,428.81 287.86,428.18 290.03,427.55 292.20,426.90 294.37,426.24 296.54,425.56 298.71,424.88 300.88,424.18 303.05,423.48 305.23,422.76 307.40,422.04 309.57,421.31 311.74,420.58 313.91,419.84 316.08,419.11 318.25,418.36 320.42,417.61 322.59,416.86 324.76,416.10 326.94,415.32 329.11,414.54 331.28,413.75 333.45,412.94 335.62,412.12 337.79,411.28 339.96,410.41 342.13,409.54 344.30,408.64 346.48,407.73 348.65,406.81 352.99,404.74 357.33,402.66 361.67,400.56 366.01,398.46 370.36,396.35 374.70,394.22 379.04,392.08 383.38,389.92 387.72,387.75 392.07,385.56 396.41,383.36 400.75,381.14 405.09,378.91 409.43,376.65 413.78,374.39 418.12,372.10 422.46,369.79 426.80,367.47 431.14,365.13 435.49,362.77 439.83,360.39 444.17,358.00 448.51,355.59 452.85,353.15 457.20,350.71 461.54,348.24 465.88,345.75 470.22,343.25 474.56,340.73 478.91,338.20 483.25,335.65 487.59,333.08 491.93,330.50 496.27,327.90 500.62,325.29 504.96,322.67 509.30,320.03 513.64,317.38 517.98,314.72 522.33,312.05 526.67,309.37 531.01,306.68 535.35,303.99 539.69,301.28 544.04,298.57 548.38,295.86 552.72,293.14 557.06,290.42 561.40,287.70 565.75,284.98 570.09,282.27 574.43,279.55 578.77,276.84 583.11,274.13 587.46,271.43 591.80,268.74 596.14,266.06 600.48,263.40 604.82,260.74 609.17,258.10 613.51,255.48 617.85,252.88 622.19,250.29 626.53,247.73 630.88,245.20 635.22,242.69 639.56,240.20 643.90,237.75 648.24,235.33 652.59,232.95 656.93,230.60 661.27,228.30 665.61,226.03 669.95,223.81 674.30,221.63 678.64,219.50 682.98,217.43 687.32,215.40 691.66,213.43 696.01,211.53 700.35,209.68 704.69,207.90 709.03,206.18 713.37,204.53 717.72,202.96 722.06,201.46 726.40,200.04" fill="none" stroke="#cf6456" stroke-width="1.6" stroke-linejoin="round"/>
<polyline points="75.10,387.32 77.27,386.41 79.44,385.49 81.61,384.57 83.78,383.64 85.95,382.70 88.13,381.75 90.30,380.80 92.47,379.85 94.64,378.88 96.81,377.91 98.98,376.94 101.15,375.97 103.32,375.01 105.49,374.03 107.66,373.05 109.84,372.05 112.01,371.03 114.18,369.99 116.35,368.93 118.52,367.83 120.69,366.71 122.86,365.57 125.03,364.40 127.20,363.21 129.38,362.00 131.55,360.75 133.72,359.47 135.89,358.15 138.06,356.80 140.23,355.40 142.40,353.94 144.57,352.42 146.74,350.83 148.91,349.19 151.08,347.52 153.26,345.81 155.43,344.09 157.60,342.36 159.77,340.64 161.94,338.94 164.11,337.23 166.28,335.50 168.45,333.75 170.62,331.99 172.79,330.22 174.97,328.45 177.14,326.69 179.31,324.93 181.48,323.19 183.65,321.46 185.82,319.76 187.99,318.08 190.16,316.42 192.33,314.76 194.50,313.10 196.68,311.45 198.85,309.78 201.02,308.10 203.19,306.39 205.36,304.66 207.53,302.91 209.70,301.16 211.87,299.38 214.04,297.60 216.21,295.80 218.39,293.98 220.56,292.15 222.73,290.29 224.90,288.42 227.07,286.52 229.24,284.58 231.41,282.60 233.58,280.57 235.75,278.52 237.92,276.46 240.10,274.40 242.27,272.35 244.44,270.31 246.61,268.31 248.78,266.36 250.95,264.43 253.12,262.51 255.29,260.61 257.46,258.71 259.63,256.84 261.81,254.99 263.98,253.16 266.15,251.36 268.32,249.60 270.49,247.88 272.66,246.20 274.83,244.56 277.00,242.95 279.17,241.37 281.34,239.81 283.52,238.26 285.69,236.72 287.86,235.19 290.03,233.64 292.20,232.09 294.37,230.53 296.54,228.97 298.71,227.42 300.88,225.87 303.05,224.32 305.23,222.77 307.40,221.23 309.57,219.70 311.74,218.16 313.91,216.63 316.08,215.11 318.25,213.59 320.42,212.07 322.59,210.56 324.76,209.05 326.94,207.54 329.11,206.04 331.28,204.53 333.45,203.02 335.62,201.51 337.79,200.00 339.96,198.49 342.13,196.98 344.30,195.46 346.48,193.95 348.65,192.44 352.99,189.87 357.33,187.31 361.67,184.75 366.01,182.21 370.36,179.67 374.70,177.15 379.04,174.63 383.38,172.07 387.72,169.47 392.07,166.91 396.41,164.46 400.75,162.20 405.09,160.12 409.43,158.14 413.78,156.27 418.12,154.49 422.46,152.79 426.80,151.16 431.14,149.58 435.49,148.08 439.83,146.68 444.17,145.40 448.51,144.23 452.85,143.14 457.20,142.11 461.54,141.14 465.88,140.23 470.22,139.35 474.56,138.49 478.91,137.65 483.25,136.91 487.59,136.33 491.93,135.88 496.27,135.49 500.62,135.15 504.96,134.87 509.30,134.65 513.64,134.46 517.98,134.27 522.33,134.12 526.67,134.02 531.01,133.98 535.35,134.01 539.69,134.11 544.04,134.26 548.38,134.44 552.72,134.65 557.06,134.95 561.40,135.39 565.75,135.91 570.09,136.47 574.43,137.00 578.77,137.51 583.11,138.03 587.46,138.57 591.80,139.12 596.14,139.69 600.48,140.26 604.82,140.83 609.17,141.42 613.51,142.05 617.85,142.71 622.19,143.44 626.53,144.24 630.88,145.08 635.22,145.92 639.56,146.74 643.90,147.54 648.24,148.33 652.59,149.12 656.93,149.93 661.27,150.78 665.61,151.67 669.95,152.61 674.30,153.56 678.64,154.53 682.98,155.48 687.32,156.43 691.66,157.40 696.01,158.35 700.35,159.29 704.69,160.18 709.03,161.04 713.37,161.87 717.72,162.68 722.06,163.46 726.40,164.22" fill="none" stroke="#82853a" stroke-width="1.6" stroke-linejoin="round"/>
<polyline points="75.10,444.51 77.27,444.31 79.44,444.12 81.61,443.93 83.78,443.73 85.95,443.54 88.13,443.35 90.30,443.16 92.47,442.97 94.64,442.78 96.81,442.59 98.98,442.40 101.15,442.22 103.32,442.03 105.49,441.84 107.66,441.66 109.84,441.47 112.01,441.29 114.18,441.11 116.35,440.93 118.52,440.74 120.69,440.56 122.86,440.38 125.03,440.19 127.20,440.01 129.38,439.82 131.55,439.64 133.72,439.45 135.89,439.27 138.06,439.09 140.23,438.91 142.40,438.73 144.57,438.55 146.74,438.38 148.91,438.20 151.08,438.03 153.26,437.87 155.43,437.71 157.60,437.55 159.77,437.40 161.94,437.25 164.11,437.11 166.28,436.96 168.45,436.82 170.62,436.69 172.79,436.55 174.97,436.42 177.14,436.29 179.31,436.16 181.48,436.03 183.65,435.91 185.82,435.78 187.99,435.66 190.16,435.54 192.33,435.43 194.50,435.31 196.68,435.20 198.85,435.09 201.02,434.98 203.19,434.87 205.36,434.76 207.53,434.66 209.70,434.55 211.87,434.44 214.04,434.32 216.21,434.21 218.39,434.10 220.56,433.99 222.73,433.88 224.90,433.77 227.07,433.66 229.24,433.56 231.41,433.47 233.58,433.38 235.75,433.29 237.92,433.21 240.10,433.14 242.27,433.08 244.44,433.03 246.61,432.98 248.78,432.95 250.95,432.92 253.12,432.90 255.29,432.88 257.46,432.86 259.63,432.84 261.81,432.82 263.98,432.81 266.15,432.80 268.32,432.78 270.49,432.77 272.66,432.76 274.83,432.75 277.00,432.74 279.17,432.72 281.34,432.71 283.52,432.69 285.69,432.68 287.86,432.66 290.03,432.64 292.20,432.61 294.37,432.58 296.54,432.55 298.71,432.51 300.88,432.47 303.05,432.42 305.23,432.37 307.40,432.32 309.57,432.27 311.74,432.21 313.91,432.15 316.08,432.09 318.25,432.04 320.42,431.98 322.59,431.93 324.76,431.88 326.94,431.83 329.11,431.78 331.28,431.74 333.45,431.70 335.62,431.67 337.79,431.64 339.96,431.62 342.13,431.60 344.30,431.57 346.48,431.56 348.65,431.54 352.99,431.49 357.33,431.44 361.67,431.40 366.01,431.38 370.36,431.35 374.70,431.34 379.04,431.34 383.38,431.34 387.72,431.36 392.07,431.38 396.41,431.41 400.75,431.44 405.09,431.48 409.43,431.53 413.78,431.57 418.12,431.62 422.46,431.67 426.80,431.73 431.14,431.79 435.49,431.87 439.83,431.95 444.17,432.04 448.51,432.14 452.85,432.24 457.20,432.34 461.54,432.44 465.88,432.55 470.22,432.65 474.56,432.76 478.91,432.88 483.25,433.00 487.59,433.12 491.93,433.25 496.27,433.38 500.62,433.50 504.96,433.63 509.30,433.76 513.64,433.88 517.98,434.01 522.33,434.14 526.67,434.28 531.01,434.41 535.35,434.54 539.69,434.67 544.04,434.79 548.38,434.92 552.72,435.03 557.06,435.14 561.40,435.26 565.75,435.36 570.09,435.47 574.43,435.58 578.77,435.68 583.11,435.77 587.46,435.87 591.80,435.96 596.14,436.04 600.48,436.12 604.82,436.19 609.17,436.26 613.51,436.33 617.85,436.39 622.19,436.46 626.53,436.52 630.88,436.58 635.22,436.65 639.56,436.71 643.90,436.78 648.24,436.85 652.59,436.92 656.93,436.98 661.27,437.05 665.61,437.12 669.95,437.19 674.30,437.25 678.64,437.32 682.98,437.38 687.32,437.45 691.66,437.51 696.01,437.57 700.35,437.63 704.69,437.69 709.03,437.75 713.37,437.81 717.72,437.87 722.06,437.93 726.40,437.99" fill="none" stroke="#238f62" stroke-width="1.6" stroke-linejoin="round"/>
<polyline points="75.10,470.11 77.27,469.96 79.44,469.80 81.61,469.65 83.78,469.48 85.95,469.32 88.13,469.16 90.30,468.99 92.47,468.82 94.64,468.65 96.81,468.47 98.98,468.30 101.15,468.12 103.32,467.94 105.49,467.75 107.66,467.57 109.84,467.38 112.01,467.19 114.18,467.00 116.35,466.81 118.52,466.62 120.69,466.42 122.86,466.22 125.03,466.01 127.20,465.81 129.38,465.60 131.55,465.38 133.72,465.17 135.89,464.95 138.06,464.73 140.23,464.50 142.40,464.28 144.57,464.05 146.74,463.82 148.91,463.59 151.08,463.36 153.26,463.12 155.43,462.89 157.60,462.65 159.77,462.42 161.94,462.18 164.11,461.94 166.28,461.70 168.45,461.46 170.62,461.21 172.79,460.96 174.97,460.71 177.14,460.46 179.31,460.20 181.48,459.95 183.65,459.69 185.82,459.43 187.99,459.17 190.16,458.91 192.33,458.65 194.50,458.39 196.68,458.12 198.85,457.86 201.02,457.60 203.19,457.34 205.36,457.07 207.53,456.81 209.70,456.55 211.87,456.28 214.04,456.01 216.21,455.75 218.39,455.48 220.56,455.21 222.73,454.94 224.90,454.67 227.07,454.40 229.24,454.13 231.41,453.86 233.58,453.59 235.75,453.31 237.92,453.04 240.10,452.77 242.27,452.50 244.44,452.23 246.61,451.97 248.78,451.70 250.95,451.43 253.12,451.16 255.29,450.90 257.46,450.63 259.63,450.36 261.81,450.09 263.98,449.82 266.15,449.56 268.32,449.29 270.49,449.02 272.66,448.76 274.83,448.49 277.00,448.22 279.17,447.96 281.34,447.70 283.52,447.43 285.69,447.17 287.86,446.91 290.03,446.65 292.20,446.39 294.37,446.13 296.54,445.87 298.71,445.61 300.88,445.36 303.05,445.10 305.23,444.84 307.40,444.59 309.57,444.33 311.74,444.08 313.91,443.83 316.08,443.57 318.25,443.32 320.42,443.07 322.59,442.82 324.76,442.57 326.94,442.33 329.11,442.08 331.28,441.84 333.45,441.59 335.62,441.35 337.79,441.11 339.96,440.87 342.13,440.64 344.30,440.40 346.48,440.17 348.65,439.94 352.99,439.41 357.33,438.89 361.67,438.39 366.01,437.90 370.36,437.44 374.70,436.99 379.04,436.58 383.38,436.18 387.72,435.80 392.07,435.43 396.41,435.07 400.75,434.72 405.09,434.38 409.43,434.06 413.78,433.75 418.12,433.44 422.46,433.15 426.80,432.87 431.14,432.59 435.49,432.32 439.83,432.06 444.17,431.81 448.51,431.56 452.85,431.33 457.20,431.10 461.54,430.88 465.88,430.66 470.22,430.45 474.56,430.23 478.91,430.02 483.25,429.80 487.59,429.60 491.93,429.41 496.27,429.23 500.62,429.08 504.96,428.95 509.30,428.85 513.64,428.77 517.98,428.69 522.33,428.61 526.67,428.54 531.01,428.48 535.35,428.42 539.69,428.38 544.04,428.34 548.38,428.32 552.72,428.31 557.06,428.32 561.40,428.33 565.75,428.35 570.09,428.38 574.43,428.42 578.77,428.46 583.11,428.50 587.46,428.55 591.80,428.60 596.14,428.65 600.48,428.70 604.82,428.77 609.17,428.85 613.51,428.94 617.85,429.03 622.19,429.13 626.53,429.23 630.88,429.33 635.22,429.43 639.56,429.52 643.90,429.62 648.24,429.72 652.59,429.82 656.93,429.93 661.27,430.03 665.61,430.14 669.95,430.24 674.30,430.34 678.64,430.44 682.98,430.53 687.32,430.62 691.66,430.71 696.01,430.79 700.35,430.87 704.69,430.96 709.03,431.04 713.37,431.11 717.72,431.19 722.06,431.26 726.40,431.34" fill="none" stroke="#3a84cc" stroke-width="1.6" stroke-linejoin="round"/>
<polyline points="75.10,469.84 77.27,469.73 79.44,469.61 81.61,469.50 83.78,469.38 85.95,469.27 88.13,469.16 90.30,469.05 92.47,468.94 94.64,468.83 96.81,468.72 98.98,468.62 101.15,468.51 103.32,468.40 105.49,468.30 107.66,468.20 109.84,468.09 112.01,467.99 114.18,467.89 116.35,467.79 118.52,467.69 120.69,467.59 122.86,467.50 125.03,467.40 127.20,467.30 129.38,467.21 131.55,467.12 133.72,467.02 135.89,466.93 138.06,466.84 140.23,466.75 142.40,466.66 144.57,466.57 146.74,466.48 148.91,466.39 151.08,466.30 153.26,466.22 155.43,466.13 157.60,466.05 159.77,465.96 161.94,465.88 164.11,465.79 166.28,465.71 168.45,465.63 170.62,465.55 172.79,465.48 174.97,465.40 177.14,465.33 179.31,465.25 181.48,465.17 183.65,465.10 185.82,465.03 187.99,464.95 190.16,464.88 192.33,464.80 194.50,464.73 196.68,464.65 198.85,464.57 201.02,464.49 203.19,464.41 205.36,464.33 207.53,464.25 209.70,464.17 211.87,464.08 214.04,464.00 216.21,463.92 218.39,463.84 220.56,463.75 222.73,463.67 224.90,463.58 227.07,463.50 229.24,463.41 231.41,463.32 233.58,463.23 235.75,463.15 237.92,463.05 240.10,462.96 242.27,462.87 244.44,462.78 246.61,462.68 248.78,462.58 250.95,462.48 253.12,462.38 255.29,462.28 257.46,462.17 259.63,462.06 261.81,461.95 263.98,461.84 266.15,461.73 268.32,461.61 270.49,461.50 272.66,461.38 274.83,461.27 277.00,461.15 279.17,461.04 281.34,460.92 283.52,460.81 285.69,460.70 287.86,460.58 290.03,460.47 292.20,460.37 294.37,460.26 296.54,460.15 298.71,460.05 300.88,459.95 303.05,459.85 305.23,459.75 307.40,459.64 309.57,459.54 311.74,459.44 313.91,459.34 316.08,459.24 318.25,459.14 320.42,459.04 322.59,458.93 324.76,458.83 326.94,458.72 329.11,458.62 331.28,458.51 333.45,458.40 335.62,458.28 337.79,458.17 339.96,458.05 342.13,457.92 344.30,457.80 346.48,457.67 348.65,457.54 352.99,457.34 357.33,457.14 361.67,456.95 366.01,456.76 370.36,456.57 374.70,456.38 379.04,456.20 383.38,456.02 387.72,455.85 392.07,455.68 396.41,455.51 400.75,455.35 405.09,455.18 409.43,455.02 413.78,454.85 418.12,454.69 422.46,454.52 426.80,454.35 431.14,454.18 435.49,454.01 439.83,453.83 444.17,453.66 448.51,453.49 452.85,453.32 457.20,453.16 461.54,453.00 465.88,452.84 470.22,452.69 474.56,452.54 478.91,452.39 483.25,452.25 487.59,452.11 491.93,451.97 496.27,451.83 500.62,451.70 504.96,451.56 509.30,451.43 513.64,451.29 517.98,451.16 522.33,451.03 526.67,450.89 531.01,450.76 535.35,450.63 539.69,450.51 544.04,450.39 548.38,450.27 552.72,450.15 557.06,450.04 561.40,449.93 565.75,449.83 570.09,449.72 574.43,449.62 578.77,449.53 583.11,449.43 587.46,449.33 591.80,449.24 596.14,449.14 600.48,449.05 604.82,448.96 609.17,448.87 613.51,448.78 617.85,448.70 622.19,448.61 626.53,448.52 630.88,448.44 635.22,448.35 639.56,448.27 643.90,448.19 648.24,448.11 652.59,448.03 656.93,447.95 661.27,447.87 665.61,447.79 669.95,447.71 674.30,447.63 678.64,447.55 682.98,447.46 687.32,447.38 691.66,447.29 696.01,447.21 700.35,447.12 704.69,447.04 709.03,446.95 713.37,446.86 717.72,446.77 722.06,446.68 726.40,446.59" fill="none" stroke="#bb62c8" stroke-width="1.6" stroke-linejoin="round"/>
<line x1="37.3" x2="42.6" y1="481.40" y2="481.40" stroke="#555" stroke-width="1.6"/>
<text x="35.4" y="485.60" text-anchor="end" class="tick">0</text>
<line x1="37.3" x2="42.6" y1="414.20" y2="414.20" stroke="#555" stroke-width="1.6"/>
<text x="35.4" y="418.40" text-anchor="end" class="tick">1</text>
<line x1="37.3" x2="42.6" y1="347.00" y2="347.00" stroke="#555" stroke-width="1.6"/>
<text x="35.4" y="351.20" text-anchor="end" class="tick">2</text>
<line x1="37.3" x2="42.6" y1="279.80" y2="279.80" stroke="#555" stroke-width="1.6"/>
<text x="35.4" y="284.00" text-anchor="end" class="tick">3</text>
<line x1="37.3" x2="42.6" y1="212.60" y2="212.60" stroke="#555" stroke-width="1.6"/>
<text x="35.4" y="216.80" text-anchor="end" class="tick">4</text>
<line x1="37.3" x2="42.6" y1="145.40" y2="145.40" stroke="#555" stroke-width="1.6"/>
<text x="35.4" y="149.60" text-anchor="end" class="tick">5</text>
<line x1="37.3" x2="42.6" y1="78.20" y2="78.20" stroke="#555" stroke-width="1.6"/>
<text x="35.4" y="82.40" text-anchor="end" class="tick">6</text>
<line y1="502.4" y2="507.1" x1="75.10" x2="75.10" stroke="#555" stroke-width="1.6"/>
<text x="75.10" y="518.2" text-anchor="middle" class="tick">1950</text>
<line y1="502.4" y2="507.1" x1="292.20" x2="292.20" stroke="#555" stroke-width="1.6"/>
<text x="292.20" y="518.2" text-anchor="middle" class="tick">2000</text>
<line y1="502.4" y2="507.1" x1="509.30" x2="509.30" stroke="#555" stroke-width="1.6"/>
<text x="509.30" y="518.2" text-anchor="middle" class="tick">2050</text>
<line y1="502.4" y2="507.1" x1="726.40" x2="726.40" stroke="#555" stroke-width="1.6"/>
<text x="726.40" y="518.2" text-anchor="middle" class="tick">2100</text>
<rect x="53.5" y="48.0" width="186.0" height="105.7" fill="#FFFFFF"/>
<rect x="57.2" y="56.30" width="20.0" height="18.7" fill="#ee8a88"/>
<rect x="57.7" y="56.80" width="19.0" height="17.7" fill="none" stroke="#cf6456" stroke-opacity="0.75" stroke-width="1"/>
<line x1="57.2" y1="65.65" x2="77.2" y2="65.65" stroke="#cf6456" stroke-opacity="0.35" stroke-width="1"/>
<line x1="58.2" y1="74.00" x2="76.2" y2="57.30" stroke="#cf6456" stroke-width="1.3"/>
<text x="79" y="69.85" class="leg">Africa</text>
<rect x="57.2" y="75.00" width="20.0" height="18.7" fill="#a29e52"/>
<rect x="57.7" y="75.50" width="19.0" height="17.7" fill="none" stroke="#82853a" stroke-opacity="0.75" stroke-width="1"/>
<line x1="57.2" y1="84.35" x2="77.2" y2="84.35" stroke="#82853a" stroke-opacity="0.35" stroke-width="1"/>
<line x1="58.2" y1="92.70" x2="76.2" y2="76.00" stroke="#82853a" stroke-width="1.3"/>
<text x="79" y="88.55" class="leg">Asia</text>
<rect x="57.2" y="93.70" width="20.0" height="18.7" fill="#40ac86"/>
<rect x="57.7" y="94.20" width="19.0" height="17.7" fill="none" stroke="#238f62" stroke-opacity="0.75" stroke-width="1"/>
<line x1="57.2" y1="103.05" x2="77.2" y2="103.05" stroke="#238f62" stroke-opacity="0.35" stroke-width="1"/>
<line x1="58.2" y1="111.40" x2="76.2" y2="94.70" stroke="#238f62" stroke-width="1.3"/>
<text x="79" y="107.25" class="leg">Europe</text>
<rect x="57.2" y="112.40" width="20.0" height="18.7" fill="#52a2e6"/>
<rect x="57.7" y="112.90" width="19.0" height="17.7" fill="none" stroke="#3a84cc" stroke-opacity="0.75" stroke-width="1"/>
<line x1="57.2" y1="121.75" x2="77.2" y2="121.75" stroke="#3a84cc" stroke-opacity="0.35" stroke-width="1"/>
<line x1="58.2" y1="130.10" x2="76.2" y2="113.40" stroke="#3a84cc" stroke-width="1.3"/>
<text x="79" y="125.95" class="leg">Latin America and the Caribbean</text>
<rect x="57.2" y="131.10" width="20.0" height="18.7" fill="#d672e6"/>
<rect x="57.7" y="131.60" width="19.0" height="17.7" fill="none" stroke="#bb62c8" stroke-opacity="0.75" stroke-width="1"/>
<line x1="57.2" y1="140.45" x2="77.2" y2="140.45" stroke="#bb62c8" stroke-opacity="0.35" stroke-width="1"/>
<line x1="58.2" y1="148.80" x2="76.2" y2="132.10" stroke="#bb62c8" stroke-width="1.3"/>
<text x="79" y="144.65" class="leg">Northern America</text>
<text x="247.4" y="22.9" class="title">Continental population projections</text>
<text transform="translate(18.9,363) rotate(-90)" class="axty">Total Population (billions)</text>
<text x="360.3" y="524.9" class="axt">Year</text>
</svg>
</body></html>
